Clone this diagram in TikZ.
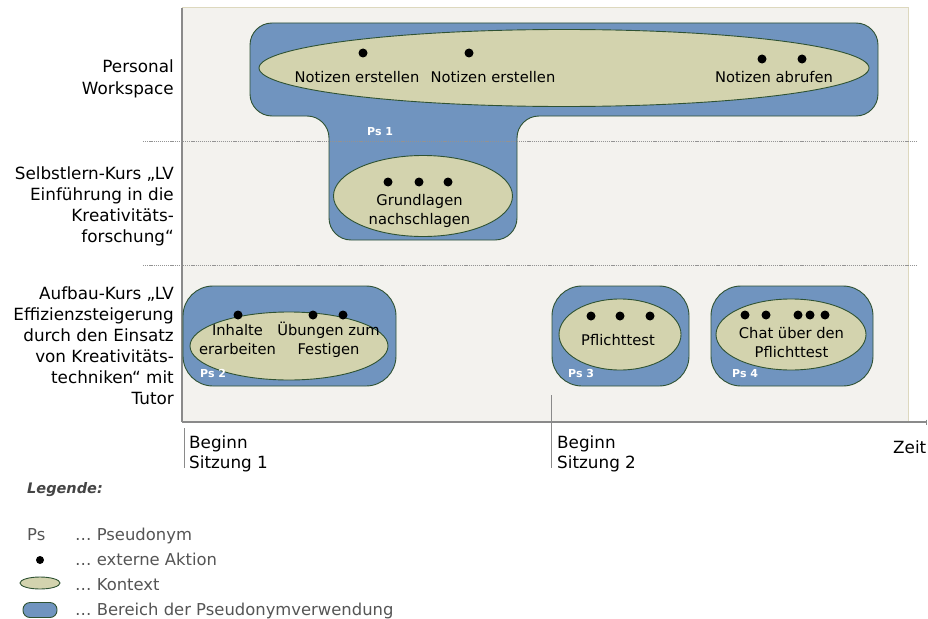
\documentclass[tikz,border=0pt]{standalone}
\usepackage{fontspec}
\setmainfont{DejaVu Sans}
\usetikzlibrary{shapes.geometric,arrows.meta}

\definecolor{panelbg}{HTML}{F3F2EE}
\definecolor{panelrim}{HTML}{DDD8BE}
\definecolor{axisgray}{HTML}{8A8A8A}
\definecolor{psblue}{HTML}{7094BF}
\definecolor{ctxgreen}{HTML}{D3D3AE}
\definecolor{rimgreen}{HTML}{2F5233}
\definecolor{legendgray}{HTML}{555555}

\begin{document}
\begin{tikzpicture}[x=1pt,y=-1pt,
  pszone/.style={fill=psblue, draw=rimgreen, line width=0.9pt},
  psbox/.style={pszone, rectangle, rounded corners=30pt, inner sep=0},
  context/.style={ellipse, fill=ctxgreen, draw=rimgreen, line width=0.9pt, inner sep=0},
  action/.style={circle, fill=black, minimum size=9pt, inner sep=0},
  pslabel/.style={text=white, font=\fontsize{11}{12}\bfseries\selectfont, anchor=base west, inner sep=0},
  ctxtext/.style={font=\fontsize{14.7}{19}\selectfont, align=center, anchor=base, inner sep=0},
  rowlabel/.style={font=\fontsize{16.8}{21}\selectfont, align=right, anchor=base east, inner sep=0},
  axtext/.style={font=\fontsize{16.8}{20}\selectfont, align=left, anchor=base west, inner sep=0},
  axisline/.style={draw=axisgray, line width=1.3pt},
  tickline/.style={draw=axisgray, line width=1pt},
  rowsep/.style={draw=gray!85, line width=0.5pt, dash pattern=on 1.2pt off 0.9pt},
  legtext/.style={text=legendgray, font=\fontsize{16.4}{18}\selectfont, anchor=base west, inner sep=0},
]
\useasboundingbox (0,0) rectangle (928,618);

% time panel
\fill[panelbg] (182,8) rectangle (908,422);
\draw[panelrim, line width=1pt] (182,8) -- (908,8) -- (908,422);

% axes
\coordinate (ytop) at (182,8);
\coordinate (origin) at (182,422);
\coordinate (tend) at (927,422);
\draw[axisline] (ytop) -- (origin);
\draw[axisline, -{Bar[width=5pt,line width=1pt]}] (origin) -- (tend);

% session ticks
\coordinate (s1a) at (184,428); \coordinate (s1b) at (184,468);
\coordinate (s2a) at (551,395); \coordinate (s2b) at (551,468);
\draw[tickline] (s1a) -- (s1b);
\draw[tickline] (s2a) -- (s2b);

% pseudonym area 1 (workspace + self-study course)
\draw[pszone, rounded corners=22pt] (250,23) -- (878,23) -- (878,116) -- (517,116)
  -- (517,240) -- (329,240) -- (329,116) -- (250,116) -- cycle;

% row separators
\coordinate (r1a) at (143,141); \coordinate (r1b) at (916,141);
\coordinate (r2a) at (143,265); \coordinate (r2b) at (916,265);
\draw[rowsep] (r1a) -- (r1b);
\draw[rowsep] (r2a) -- (r2b);

% pseudonym areas 2-4
\node[psbox, minimum width=213pt, minimum height=100pt] (ps2) at (289.5,336) {};
\node[psbox, minimum width=137pt, minimum height=100pt] (ps3) at (620.5,336) {};
\node[psbox, minimum width=162pt, minimum height=100pt] (ps4) at (792,336) {};

% contexts
\node[context, minimum width=610pt, minimum height=77pt] (cws) at (564,68) {};
\node[context, minimum width=179pt, minimum height=81pt] (cgl) at (423,196) {};
\node[context, minimum width=198pt, minimum height=68pt] (cih) at (289,346) {};
\node[context, minimum width=122pt, minimum height=71pt] (cpt) at (620,334.5) {};
\node[context, minimum width=150pt, minimum height=71pt] (cch) at (791,334.5) {};

% external actions
\node[action] (a1) at (363,53) {};
\node[action] (a2) at (469,53) {};
\node[action] (a3) at (762,59) {};
\node[action] (a4) at (802,59) {};
\node[action] (a5) at (388,182) {};
\node[action] (a6) at (419,182) {};
\node[action] (a7) at (448,182) {};
\node[action] (a8) at (238,315) {};
\node[action] (a9) at (313,315) {};
\node[action] (a10) at (343,315) {};
\node[action] (a11) at (591,316) {};
\node[action] (a12) at (620,316) {};
\node[action] (a13) at (650,316) {};
\node[action] (a14) at (745,315) {};
\node[action] (a15) at (766,315) {};
\node[action] (a16) at (798,315) {};
\node[action] (a17) at (810,315) {};
\node[action] (a18) at (825,315) {};

% context texts (base anchor sits on the last line)
\node[ctxtext] (t1) at (357,82) {Notizen erstellen};
\node[ctxtext] (t2) at (493,82) {Notizen erstellen};
\node[ctxtext] (t3) at (774,82) {Notizen abrufen};
\node[ctxtext] (t4) at (419.5,224) {Grundlagen\\nachschlagen};
\node[ctxtext] (t5) at (237.5,354) {Inhalte\\erarbeiten};
\node[ctxtext] (t6) at (328.5,354) {Übungen zum\\Festigen};
\node[ctxtext] (t7) at (618,345) {Pflichttest};
\node[ctxtext] (t8) at (791.5,357) {Chat über den\\Pflichttest};

% pseudonym labels
\node[pslabel] (p1) at (367,135) {Ps 1};
\node[pslabel] (p2) at (200,377) {Ps 2};
\node[pslabel] (p3) at (568,377) {Ps 3};
\node[pslabel] (p4) at (732,377) {Ps 4};

% row labels
\node[rowlabel] (l1) at (174,94) {Personal\\Workspace};
\node[rowlabel] (l2) at (174,242) {Selbstlern-Kurs „LV\\Einführung in die\\Kreativitäts-\\forschung“};
\node[rowlabel] (l3) at (174,404) {Aufbau-Kurs „LV\\Effizienzsteigerung\\durch den Einsatz\\von Kreativitäts-\\techniken“ mit\\Tutor};

% axis texts
\node[axtext] (b1) at (189,468) {Beginn\\Sitzung 1};
\node[axtext] (b2) at (557,468) {Beginn\\Sitzung 2};
\node[axtext] (zeit) at (893,453) {Zeit};

% legend
\node[anchor=base west, inner sep=0, text=legendgray!80!black, font=\fontsize{14.5}{18}\bfseries\itshape\selectfont] (leg) at (27,493) {Legende:};
\node[anchor=base west, inner sep=0, text=legendgray, font=\fontsize{16.4}{18}\selectfont] (lps) at (27,540) {Ps};
\node[action, minimum size=8pt] (ldot) at (40,560) {};
\node[context, minimum width=40pt, minimum height=12pt] (lctx) at (40,583) {};
\node[pszone, rectangle, rounded corners=7pt, minimum width=34pt, minimum height=15pt, inner sep=0] (lps2) at (40,610) {};
\node[legtext] (g1) at (75,540) {… Pseudonym};
\node[legtext] (g2) at (75,565) {… externe Aktion};
\node[legtext] (g3) at (75,590) {… Kontext};
\node[legtext] (g4) at (75,615) {… Bereich der Pseudonymverwendung};
\end{tikzpicture}
\end{document}
